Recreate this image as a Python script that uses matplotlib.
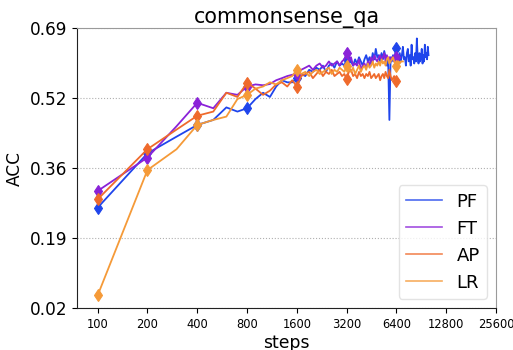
import numpy as np
import matplotlib
matplotlib.use("Agg")
import matplotlib.pyplot as plt
from matplotlib.lines import Line2D

# Evaluation accuracy on commonsense_qa, one value every 100 training steps
pf_acc = [
    0.26, 0.39, 0.43, 0.458, 0.47, 0.50, 0.49, 0.498, 0.52, 0.535,
    0.525, 0.55, 0.565, 0.56, 0.56, 0.57, 0.58, 0.575, 0.59, 0.585,
    0.595, 0.59, 0.60, 0.585, 0.60, 0.605, 0.595, 0.61, 0.60, 0.605,
    0.60, 0.617, 0.605, 0.61, 0.60, 0.615, 0.605, 0.62, 0.61, 0.60,
    0.615, 0.625, 0.61, 0.62, 0.605, 0.63, 0.615, 0.64, 0.62, 0.625,
    0.61, 0.63, 0.615, 0.635, 0.62, 0.60, 0.615, 0.47, 0.62, 0.61,
    0.625, 0.61, 0.63, 0.641, 0.62, 0.605, 0.63, 0.61, 0.625, 0.645,
    0.615, 0.62, 0.60, 0.63, 0.64, 0.61, 0.625, 0.60, 0.65, 0.615,
    0.62, 0.605, 0.63, 0.61, 0.665, 0.62, 0.605, 0.63, 0.61, 0.62,
    0.64, 0.605, 0.625, 0.61, 0.65, 0.62, 0.63, 0.615, 0.645, 0.625,
]
ft_acc = [
    0.30, 0.38, 0.455, 0.511, 0.498, 0.535, 0.53, 0.55, 0.555, 0.553,
    0.556, 0.565, 0.57, 0.575, 0.578, 0.58, 0.59, 0.595, 0.60, 0.59,
    0.60, 0.605, 0.595, 0.60, 0.61, 0.60, 0.605, 0.61, 0.60, 0.61,
    0.615, 0.629, 0.61, 0.62, 0.60, 0.605, 0.60, 0.615, 0.59, 0.60,
    0.605, 0.595, 0.61, 0.60, 0.62, 0.61, 0.625, 0.615, 0.61, 0.62,
    0.625, 0.615, 0.62, 0.63, 0.61, 0.625, 0.615, 0.62, 0.61, 0.62,
    0.615, 0.61, 0.62, 0.62,
]
ap_acc = [
    0.28, 0.40, 0.447, 0.48, 0.49, 0.535, 0.525, 0.559, 0.545, 0.53,
    0.54, 0.555, 0.56, 0.55, 0.565, 0.55, 0.575, 0.58, 0.585, 0.57,
    0.58, 0.59, 0.575, 0.585, 0.58, 0.59, 0.575, 0.58, 0.585, 0.575,
    0.58, 0.567, 0.585, 0.59, 0.575, 0.58, 0.57, 0.585, 0.575, 0.58,
    0.57, 0.58, 0.575, 0.585, 0.57, 0.575, 0.58, 0.57, 0.575, 0.58,
    0.565, 0.575, 0.58, 0.57, 0.585, 0.575, 0.57, 0.59, 0.575, 0.565,
    0.57, 0.575, 0.56, 0.562,
]
lr_acc = [
    0.05, 0.35, 0.40, 0.458, 0.47, 0.478, 0.52, 0.53, 0.545, 0.55,
    0.56, 0.555, 0.565, 0.57, 0.575, 0.59, 0.58, 0.585, 0.575, 0.585,
    0.59, 0.58, 0.585, 0.59, 0.595, 0.58, 0.59, 0.585, 0.595, 0.59,
    0.585, 0.60, 0.59, 0.585, 0.595, 0.58, 0.59, 0.60, 0.585, 0.595,
    0.60, 0.59, 0.605, 0.595, 0.60, 0.61, 0.595, 0.605, 0.60, 0.61,
    0.60, 0.615, 0.605, 0.61, 0.60, 0.615, 0.62, 0.605, 0.61, 0.615,
    0.62, 0.61, 0.605, 0.60, 0.61, 0.61, 0.605, 0.61, 0.61, 0.61,
]
step_interval = 100

series_names = ["PF", "FT", "AP", "LR"]
series_values = [pf_acc, ft_acc, ap_acc, lr_acc]
series_colors = ["#1f45ec", "#8a22d8", "#ef6a2c", "#f59a38"]

x_ticks = [100, 200, 400, 800, 1600, 3200, 6400, 12800, 25600]
y_ticks = [0.02, 0.1875, 0.355, 0.5225, 0.69]
y_ticklabels = ["0.02", "0.19", "0.36", "0.52", "0.69"]

fig = plt.figure(figsize=(5.13, 3.5), dpi=100)
ax = fig.add_axes([0.150, 0.12, 0.817, 0.80])

for name, vals, color in zip(series_names, series_values, series_colors):
    steps = step_interval * np.arange(1, len(vals) + 1)
    # markers at every doubling of the step count
    mark_idx = [i for i in range(len(vals)) if (i + 1) & i == 0]
    ax.plot(steps, vals, color=color, lw=1.3,
            marker="d", markevery=mark_idx, ms=6, mew=0.8)

ax.set_xscale("log", base=2)
ax.set_xlim(75, 25600)
ax.set_ylim(0.02, 0.69)
ax.set_xticks(x_ticks)
ax.set_xticklabels([str(t) for t in x_ticks], fontsize=8.3)
ax.minorticks_off()
ax.set_yticks(y_ticks)
ax.set_yticklabels(y_ticklabels, fontsize=12.2)
ax.tick_params(axis="both", length=3.5, width=0.8)
ax.yaxis.grid(True, linestyle=":", color="#b0b0b0", lw=0.8)
ax.xaxis.grid(False)

for side in ("top", "right"):
    ax.spines[side].set_color("#9a9a9a")
for side in ("left", "bottom"):
    ax.spines[side].set_color("#222222")

ax.set_xlabel("steps", fontsize=12.4, labelpad=2)
ax.set_ylabel("ACC", fontsize=12.2, labelpad=4)
ax.set_title("commonsense_qa", fontsize=14.9, pad=3)

handles = [Line2D([], [], color=c, lw=1.2, alpha=0.8) for c in series_colors]
ax.legend(handles, series_names, loc="lower right", fontsize=13,
          frameon=True, fancybox=True, edgecolor="#dddddd", handlelength=2.0)

fig.savefig("out.png", dpi=100)
